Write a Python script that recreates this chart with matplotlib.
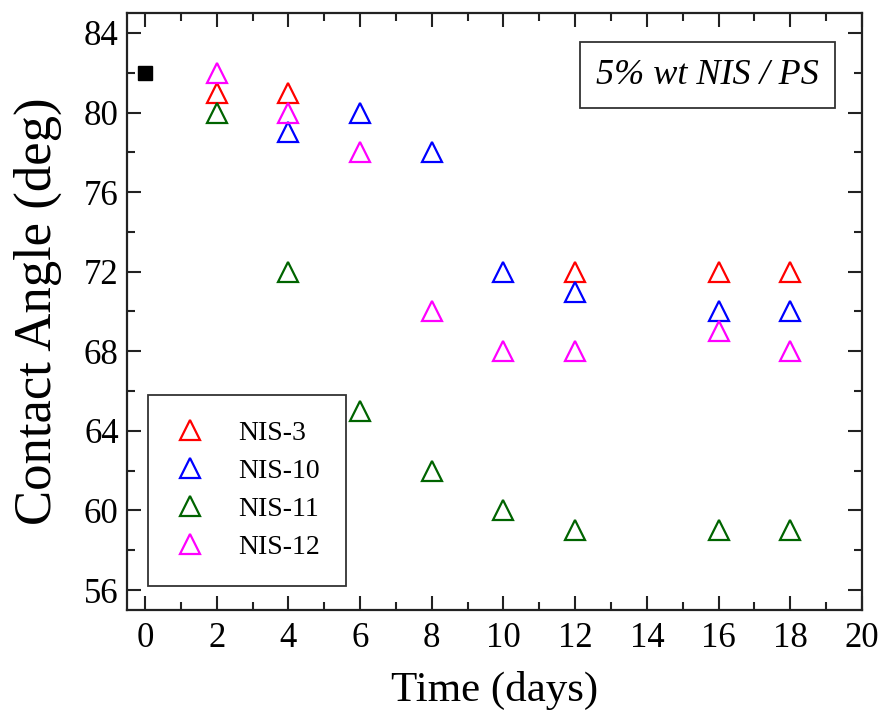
import matplotlib
matplotlib.use("Agg")
import matplotlib.pyplot as plt
from matplotlib.ticker import MultipleLocator

plt.rcParams['font.family'] = ['Liberation Serif', 'DejaVu Serif']

# Contact angle (deg) versus ageing time (days)
ref_days = [0]
ref_angle = [82]

nis3_days = [2, 4, 12, 16, 18]
nis3_angle = [81, 81, 72, 72, 72]

nis10_days = [4, 6, 8, 10, 12, 16, 18]
nis10_angle = [79, 80, 78, 72, 71, 70, 70]

nis11_days = [2, 4, 6, 8, 10, 12, 16, 18]
nis11_angle = [80, 72, 65, 62, 60, 59, 59, 59]

nis12_days = [2, 4, 6, 8, 10, 12, 16, 18]
nis12_angle = [82, 80, 78, 70, 68, 68, 69, 68]

series = [
    ("NIS-3", nis3_days, nis3_angle, "#ff0000"),
    ("NIS-10", nis10_days, nis10_angle, "#0000ff"),
    ("NIS-11", nis11_days, nis11_angle, "#006400"),
    ("NIS-12", nis12_days, nis12_angle, "#ff00ff"),
]

x_ticks = list(range(0, 21, 2))
y_ticks = list(range(56, 85, 4))

fig = plt.figure(figsize=(8.81, 7.15), dpi=100)
ax = fig.add_axes([0.1442, 0.1469, 0.8342, 0.8349])

ax.plot(ref_days, ref_angle, linestyle='none', marker='s', markersize=10,
        color='black')

handles = []
for name, xs, ys, col in series:
    h, = ax.plot(xs, ys, linestyle='none', marker='^', markersize=15,
                 markerfacecolor='none', markeredgecolor=col,
                 markeredgewidth=1.6, label=name)
    handles.append(h)

ax.set_xlim(-0.5, 20)
ax.set_ylim(55, 85)
ax.set_xticks(x_ticks)
ax.set_yticks(y_ticks)
ax.xaxis.set_minor_locator(MultipleLocator(1))
ax.yaxis.set_minor_locator(MultipleLocator(2))

ax.tick_params(which='both', direction='in', top=True, right=True,
               width=1.5, color='#222222')
ax.tick_params(which='major', length=10, labelsize=25)
ax.tick_params(which='minor', length=6)
ax.tick_params(axis='x', which='major', pad=9)
ax.tick_params(axis='y', which='major', pad=6)
for sp in ax.spines.values():
    sp.set_linewidth(1.6)
    sp.set_color('#222222')

ax.set_xlabel("Time (days)", fontsize=31, labelpad=11)
ax.set_ylabel("Contact Angle (deg)", fontsize=38, labelpad=16)

leg = ax.legend(handles=handles, loc='lower left',
                bbox_to_anchor=(0.0286, 0.040), borderaxespad=0,
                fontsize=20, frameon=True, fancybox=False,
                edgecolor='#333333', framealpha=1,
                handletextpad=1.15, labelspacing=0.45, borderpad=0.94,
                handlelength=1.15)
leg.get_frame().set_linewidth(1.3)

ax.text(0.9415, 0.896, "5% wt NIS / PS", transform=ax.transAxes,
        ha='right', va='center', fontsize=26, style='italic',
        bbox=dict(boxstyle='square,pad=0.45', facecolor='white',
                  edgecolor='#333333', linewidth=1.3))

fig.savefig("out.png", dpi=100)
